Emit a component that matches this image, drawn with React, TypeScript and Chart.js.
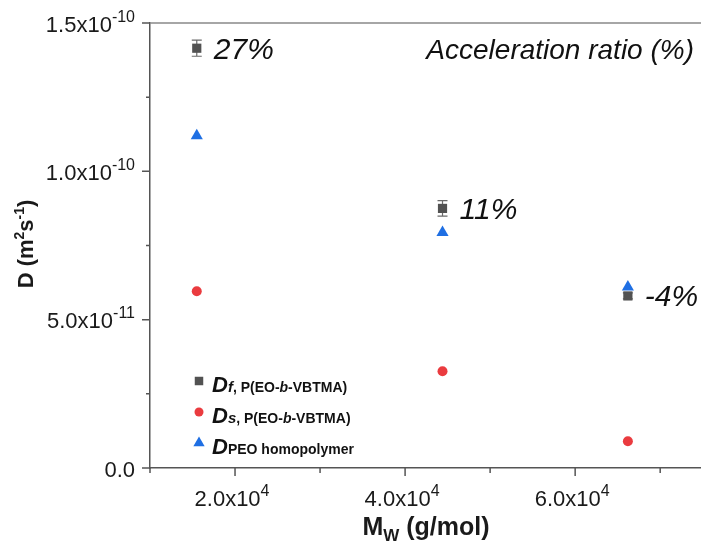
import React, { useEffect, useRef } from "react";
import { Chart, registerables } from "chart.js";

Chart.register(...registerables);

// ---- data ----
const mw = [15500, 44400, 66200];
const dFast = [1.415e-10, 8.75e-11, 5.8e-11];
const dFastErr = [2.7e-12, 2.6e-12, 1.0e-12];
const dSlow = [5.96e-11, 3.26e-11, 9.0e-12];
const dPeo = [1.12e-10, 7.94e-11, 6.1e-11];
const ratioLabels = ["27%", "11%", "-4%"];

const xTickValues = [2e4, 4e4, 6e4];
const xTickMantissa = ["2.0x10", "4.0x10", "6.0x10"];
const xTickExponent = ["4", "4", "4"];
const xMinorTicks = [1e4, 3e4, 5e4, 7e4];

const yTickValues = [0, 5e-11, 1e-10, 1.5e-10];
const yTickMantissa = ["0.0", "5.0x10", "1.0x10", "1.5x10"];
const yTickExponent = ["", "-11", "-10", "-10"];
const yMinorTicks = [2.5e-11, 7.5e-11, 1.25e-10];

const FAM = '"Liberation Sans", Arial, sans-serif';
const GRAY = "#525252";
const RED = "#ea3b3f";
const BLUE = "#1f6fe3";
const AXIS = "#555555";
const TEXT = "#1a1a1a";

type Seg = { t: string; font: string; dy?: number };

function drawRich(ctx: CanvasRenderingContext2D, segs: Seg[], x: number, y: number, align: "left" | "right" | "center") {
  let total = 0;
  const widths = segs.map((s) => {
    ctx.font = s.font;
    const w = ctx.measureText(s.t).width;
    total += w;
    return w;
  });
  let cx = align === "right" ? x - total : align === "center" ? x - total / 2 : x;
  ctx.textAlign = "left";
  ctx.textBaseline = "alphabetic";
  segs.forEach((s, i) => {
    ctx.font = s.font;
    ctx.fillText(s.t, cx, y + (s.dy || 0));
    cx += widths[i];
  });
}

const f = (size: number, bold = false, italic = false) =>
  `${italic ? "italic " : ""}${bold ? "bold " : ""}${size}px ${FAM}`;

function drawMarker(ctx: CanvasRenderingContext2D, style: string, x: number, y: number, r: number, color: string) {
  ctx.fillStyle = color;
  ctx.beginPath();
  if (style === "rect") {
    const s = r * Math.SQRT1_2;
    ctx.rect(x - s, y - s, 2 * s, 2 * s);
  } else if (style === "circle") {
    ctx.arc(x, y, r, 0, Math.PI * 2);
  } else {
    const a = (2 * Math.PI) / 3;
    ctx.moveTo(x, y - r);
    ctx.lineTo(x + Math.sin(a) * r, y - Math.cos(a) * r);
    ctx.lineTo(x + Math.sin(2 * a) * r, y - Math.cos(2 * a) * r);
    ctx.closePath();
  }
  ctx.fill();
}

const legendRows: { sub: Seg[] }[] = [
  {
    sub: [
      { t: "f", font: f(15, true, true) },
      { t: ", P(EO-", font: f(14, true) },
      { t: "b", font: f(14, true, true) },
      { t: "-VBTMA)", font: f(14, true) },
    ],
  },
  {
    sub: [
      { t: "s", font: f(15, true, true) },
      { t: ", P(EO-", font: f(14, true) },
      { t: "b", font: f(14, true, true) },
      { t: "-VBTMA)", font: f(14, true) },
    ],
  },
  { sub: [{ t: "PEO homopolymer", font: f(14, true) }] },
];

const decorPlugin = {
  id: "decor",
  beforeDatasetsDraw(chart: any) {
    const ctx: CanvasRenderingContext2D = chart.ctx;
    const xs = chart.scales.x;
    const ys = chart.scales.y;
    ctx.save();
    ctx.strokeStyle = "#6a6a6a";
    ctx.lineWidth = 1.2;
    mw.forEach((m, i) => {
      const px = xs.getPixelForValue(m);
      const top = ys.getPixelForValue(dFast[i] + dFastErr[i]);
      const bot = ys.getPixelForValue(dFast[i] - dFastErr[i]);
      ctx.beginPath();
      ctx.moveTo(px, top);
      ctx.lineTo(px, bot);
      ctx.moveTo(px - 5, top);
      ctx.lineTo(px + 5, top);
      ctx.moveTo(px - 5, bot);
      ctx.lineTo(px + 5, bot);
      ctx.stroke();
    });
    ctx.restore();
  },
  afterDraw(chart: any) {
    const ctx: CanvasRenderingContext2D = chart.ctx;
    const xs = chart.scales.x;
    const ys = chart.scales.y;
    const area = chart.chartArea;
    ctx.save();

    // top frame line
    ctx.strokeStyle = "#888888";
    ctx.lineWidth = 1.5;
    ctx.beginPath();
    ctx.moveTo(area.left, area.top);
    ctx.lineTo(area.right, area.top);
    ctx.stroke();

    // ticks
    ctx.strokeStyle = AXIS;
    ctx.lineWidth = 1.5;
    ctx.beginPath();
    yTickValues.forEach((v) => {
      const py = ys.getPixelForValue(v);
      ctx.moveTo(area.left - 8, py);
      ctx.lineTo(area.left, py);
    });
    yMinorTicks.forEach((v) => {
      const py = ys.getPixelForValue(v);
      ctx.moveTo(area.left - 4, py);
      ctx.lineTo(area.left, py);
    });
    xTickValues.forEach((v) => {
      const px = xs.getPixelForValue(v);
      ctx.moveTo(px, area.bottom);
      ctx.lineTo(px, area.bottom + 8);
    });
    xMinorTicks.forEach((v) => {
      const px = xs.getPixelForValue(v);
      ctx.moveTo(px, area.bottom);
      ctx.lineTo(px, area.bottom + 5);
    });
    ctx.stroke();

    // tick labels
    ctx.fillStyle = TEXT;
    yTickValues.forEach((v, i) => {
      const py = ys.getPixelForValue(v);
      const segs: Seg[] = [{ t: yTickMantissa[i], font: f(22) }];
      if (yTickExponent[i]) segs.push({ t: yTickExponent[i], font: f(16), dy: -10 });
      drawRich(ctx, segs, area.left - 15, py + 8.5, "right");
    });
    xTickValues.forEach((v, i) => {
      const px = xs.getPixelForValue(v);
      drawRich(
        ctx,
        [
          { t: xTickMantissa[i], font: f(22) },
          { t: xTickExponent[i], font: f(16), dy: -10 },
        ],
        px - 3,
        area.bottom + 38,
        "center"
      );
    });

    // axis titles
    drawRich(
      ctx,
      [
        { t: "M", font: f(25, true) },
        { t: "W", font: f(17, true), dy: 6 },
        { t: " (g/mol)", font: f(25, true) },
      ],
      426,
      area.bottom + 67,
      "center"
    );
    ctx.save();
    ctx.translate(33, 244);
    ctx.rotate(-Math.PI / 2);
    drawRich(
      ctx,
      [
        { t: "D (m", font: f(22, true) },
        { t: "2", font: f(14, true), dy: -9 },
        { t: "s", font: f(22, true) },
        { t: "-1", font: f(14, true), dy: -9 },
        { t: ")", font: f(22, true) },
      ],
      0,
      0,
      "center"
    );
    ctx.restore();

    // annotations
    ctx.fillStyle = "#111111";
    mw.forEach((m, i) => {
      const px = xs.getPixelForValue(m);
      const py = ys.getPixelForValue(dFast[i]);
      ctx.font = f(30, false, true);
      ctx.textAlign = "left";
      ctx.textBaseline = "middle";
      ctx.fillText(ratioLabels[i], px + 17, py + 2);
    });
    ctx.font = f(28, false, true);
    ctx.textAlign = "right";
    ctx.textBaseline = "middle";
    ctx.fillText("Acceleration ratio (%)", area.right - 7, area.top + 28);

    // legend
    const dsets = chart.data.datasets;
    const rowY = [381, 412, 443];
    legendRows.forEach((row, i) => {
      const ds = dsets[i];
      const r = ds.pointStyle === "rect" ? 6 : ds.pointStyle === "circle" ? 4.5 : 6.5;
      drawMarker(ctx, ds.pointStyle, area.left + 49, rowY[i], r, ds.backgroundColor);
      ctx.fillStyle = "#111111";
      drawRich(ctx, [{ t: "D", font: f(22, true, true) }, ...row.sub], area.left + 62, rowY[i] + 11, "left");
    });

    ctx.restore();
  },
};

export default function App() {
  const ref = useRef<HTMLCanvasElement | null>(null);
  useEffect(() => {
    if (!ref.current) return;
    const chart = new Chart(ref.current, {
      type: "scatter",
      data: {
        datasets: [
          {
            label: "Df",
            data: mw.map((x, i) => ({ x, y: dFast[i] })),
            pointStyle: "rect",
            pointRadius: 6.5,
            backgroundColor: GRAY,
            borderColor: GRAY,
            borderWidth: 0,
            order: 2,
          },
          {
            label: "Ds",
            data: mw.map((x, i) => ({ x, y: dSlow[i] })),
            pointStyle: "circle",
            pointRadius: 5,
            backgroundColor: RED,
            borderColor: RED,
            borderWidth: 0,
            order: 1,
          },
          {
            label: "Dpeo",
            data: mw.map((x, i) => ({ x, y: dPeo[i] })),
            pointStyle: "triangle",
            pointRadius: 7,
            backgroundColor: BLUE,
            borderColor: BLUE,
            borderWidth: 0,
            order: 0,
          },
        ],
      },
      options: {
        animation: false,
        responsive: false,
        events: [],
        layout: { autoPadding: false, padding: { top: 23, right: 0, left: 0, bottom: 0 } },
        plugins: { legend: { display: false }, tooltip: { enabled: false } },
        scales: {
          x: {
            type: "linear",
            min: 1e4,
            max: 7.48e4,
            ticks: { display: false },
            grid: { display: false },
            border: { display: true, color: AXIS, width: 1.5 },
            afterFit: (s: any) => {
              s.height = 82;
            },
          },
          y: {
            type: "linear",
            min: 0,
            max: 1.5e-10,
            ticks: { display: false },
            grid: { display: false },
            border: { display: true, color: AXIS, width: 1.5 },
            afterFit: (s: any) => {
              s.width = 150;
            },
          },
        },
      } as any,
      plugins: [decorPlugin as any],
    });
    return () => chart.destroy();
  }, []);
  return (
    <div style={{ position: "absolute", left: 0, top: 0, width: 701, height: 550, background: "#fff" }}>
      <canvas ref={ref} width={701} height={550} style={{ display: "block" }} />
    </div>
  );
}
